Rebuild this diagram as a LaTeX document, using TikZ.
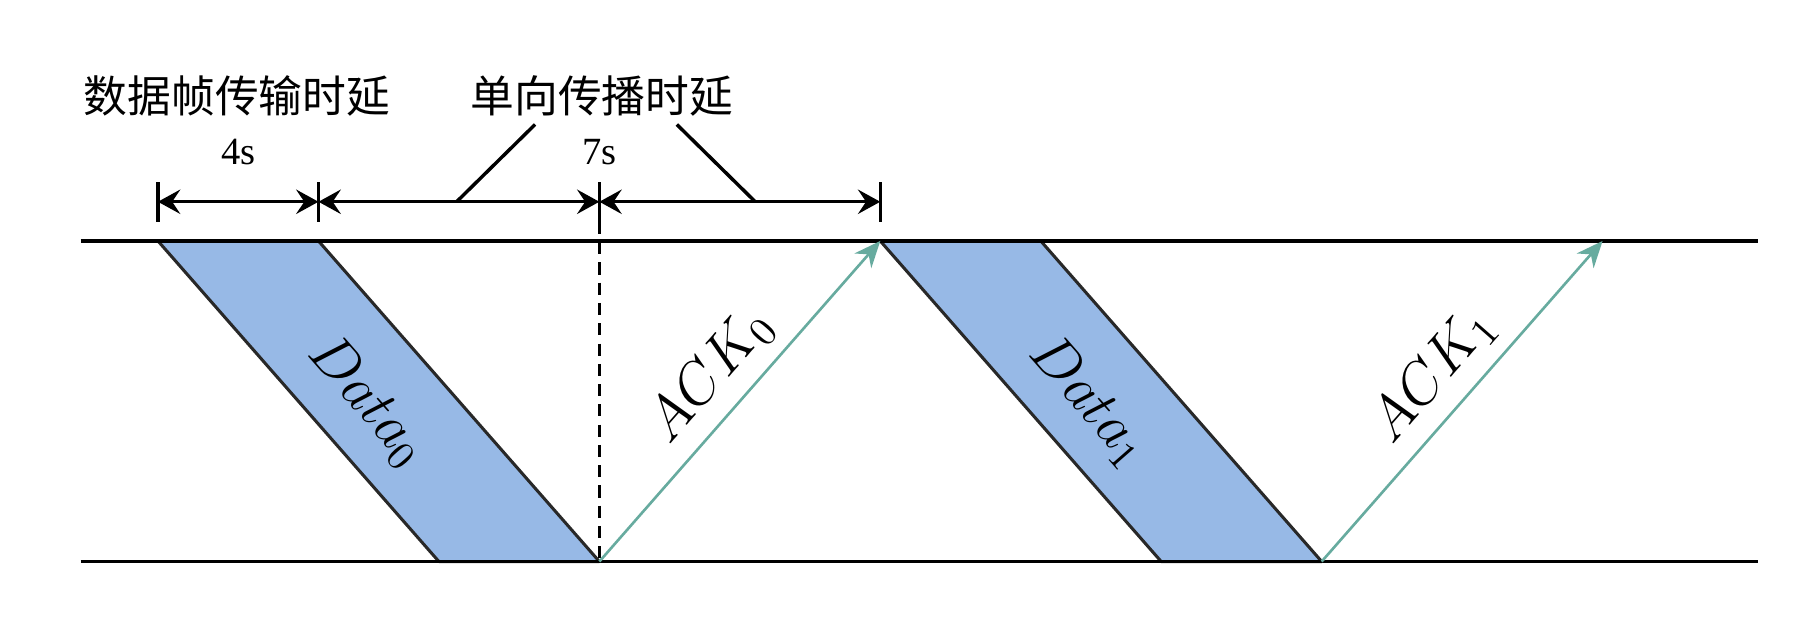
\documentclass[tikz,border=0pt]{standalone}
\usepackage{fontspec}
\newfontfamily\cjk{Noto Sans CJK SC}
\newfontfamily\tnr{Liberation Serif}
\usetikzlibrary{arrows.meta}
\definecolor{datablue}{RGB}{151,185,230}
\definecolor{ackgreen}{RGB}{103,171,159}
\definecolor{edgegray}{RGB}{40,40,40}

\begin{document}
\begin{tikzpicture}[line join=round, >={Stealth[length=5.5pt,width=6pt,inset=2pt]},
	packet/.style={line width=0.75pt, draw=edgegray, fill=datablue},
	ack/.style={line width=0.65pt, draw=ackgreen, -{Stealth[length=6.5pt,width=5.5pt]}},
	dim/.style={line width=0.85pt},
	lbl/.style={font=\Large},
	cn/.style={font=\cjk\fontsize{10.8pt}{13pt}\selectfont},
	sec/.style={font=\tnr\fontsize{9.5pt}{11pt}\selectfont}]
	\useasboundingbox (0,0) rectangle (15.68,5.41);
	\path
	(0.70,3.32) coordinate (L1) (15.25,3.32) coordinate (R1)
	(0.70,0.54) coordinate (L2) (15.25,0.54) coordinate (R2)
	% data frames, 4s to send, 7s to travel
	({1.37+0.348*0},3.32) coordinate (D0a)
	({1.37+0.348*4},3.32) coordinate (D0b)
	({1.37+0.348*11},0.54) coordinate (D0c)
	({1.37+0.348*7},0.54) coordinate (D0d)
	({1.37+0.348*18},3.32) coordinate (D1a)
	({1.37+0.348*22},3.32) coordinate (D1b)
	({1.37+0.348*29},0.54) coordinate (D1c)
	({1.37+0.348*25},0.54) coordinate (D1d)
	({1.37+0.348*36},3.32) coordinate (A1)
	% dimension line
	({1.37+0.348*0},3.66) coordinate (T0)
	({1.37+0.348*4},3.66) coordinate (T4)
	({1.37+0.348*11},3.66) coordinate (T11)
	({1.37+0.348*18},3.66) coordinate (T18)
	(3.96,3.66) coordinate (P1) (4.64,4.33) coordinate (Q1)
	(6.55,3.66) coordinate (P2) (5.87,4.33) coordinate (Q2);
	\draw[packet] (D0a)--(D0b)--(D0c)--(D0d)--cycle;
	\draw[packet] (D1a)--(D1b)--(D1c)--(D1d)--cycle;
	\draw[line width=0.9pt] (L1)--(R1) (L2)--(R2);
	\draw[line width=0.8pt, dash pattern=on 3pt off 2pt] ([yshift=-1.75mm]T11)--(D0c);
	\node[lbl, rotate=-48.8] (data0) at (3.19,1.93) {$Data_0$};
	\node[lbl, rotate=-48.8] (data1) at (9.45,1.93) {$Data_1$};
	\draw[ack] (D0c)--(D1a) node[midway, above, sloped, lbl] (ack0) {$ACK_0$};
	\draw[ack] (D1c)--(A1) node[midway, above, sloped, lbl] (ack1) {$ACK_1$};
	\foreach \p in {T0, T4, T11, T18}
	\draw[dim] ([yshift=-1.75mm]\p)--([yshift=1.75mm]\p);
	\draw[dim, <->] (T0)--(T4);
	\draw[dim, <->] (T4)--(T11);
	\draw[dim, <->] (T11)--(T18);
	\node[cn] (tx) at (2.055,4.58) {数据帧传输时延};
	\node[cn] (cb) at (5.22,4.58) {单向传播时延};
	\node[sec] (s4) at ({1.37+0.348*2},4.09) {4s};
	\node[sec] (s7) at ({1.37+0.348*11},4.09) {7s};
	\draw[dim] (Q1)--(P1) (Q2)--(P2);
\end{tikzpicture}
\end{document}
